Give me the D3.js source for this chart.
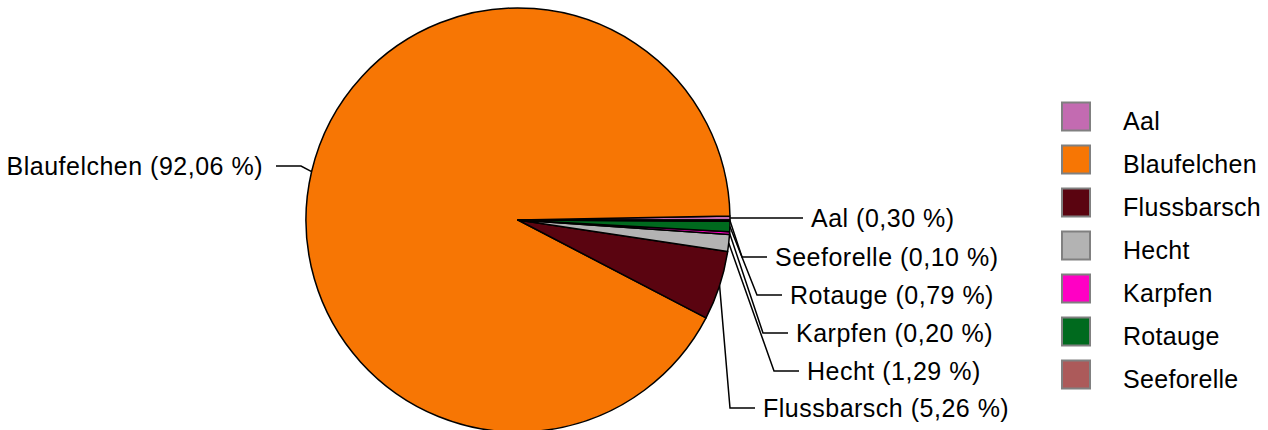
<!DOCTYPE html>
<html>
<head>
<meta charset="utf-8">
<script src="https://cdn.jsdelivr.net/npm/d3@7"></script>
<style>
  body { margin: 0; background: #fff; }
  text { font-family: "Liberation Sans", Arial, sans-serif; fill: #000; }
</style>
</head>
<body>
<div id="chart"></div>
<script>
// data
const species = ["Aal", "Blaufelchen", "Flussbarsch", "Hecht", "Karpfen", "Rotauge", "Seeforelle"];
const shares = [0.30, 92.06, 5.26, 1.29, 0.20, 0.79, 0.10];
const colors = ["#c36bb1", "#f77604", "#5a0410", "#b3b3b3", "#ff00c4", "#006a1e", "#ac5a5a"];

// leader layout for the slice labels (elbow x, label y), layout only
const labelLayout = {
  "Blaufelchen": {side: "left", ex: 301, y: 166},
  "Aal": {side: "right", ex: 778, y: 218},
  "Seeforelle": {side: "right", ex: 742, y: 257},
  "Rotauge": {side: "right", ex: 757, y: 295},
  "Karpfen": {side: "right", ex: 763, y: 333},
  "Hecht": {side: "right", ex: 774, y: 371},
  "Flussbarsch": {side: "right", ex: 730, y: 408}
};

const width = 1268, height = 430;
const cx = 518, cy = 220, radius = 212;
const fmt = v => v.toFixed(2).replace(".", ",") + " %";

const svg = d3.select("#chart").append("svg")
  .attr("width", width).attr("height", height);

const data = species.map((s, i) => ({name: s, value: shares[i], color: colors[i]}));

// counter-clockwise from 3 o'clock
const pie = d3.pie().sort(null).value(d => d.value)
  .startAngle(Math.PI / 2).endAngle(Math.PI / 2 - 2 * Math.PI);
const arcs = pie(data);
const arc = d3.arc().innerRadius(0).outerRadius(radius);

const g = svg.append("g").attr("transform", `translate(${cx},${cy})`);
g.selectAll("path.slice").data(arcs).enter().append("path")
  .attr("class", "slice")
  .attr("d", arc)
  .attr("fill", d => d.data.color)
  .attr("stroke", "#000")
  .attr("stroke-width", 1.5)
  .attr("stroke-linejoin", "round");

// labels with leader lines
const labels = svg.append("g");
arcs.forEach(d => {
  const lay = labelLayout[d.data.name];
  const mid = (d.startAngle + d.endAngle) / 2;
  const px = cx + Math.sin(mid) * radius;
  const py = cy - Math.cos(mid) * radius;
  const dir = lay.side === "right" ? 1 : -1;
  const hx = lay.ex + dir * 25;
  labels.append("polyline")
    .attr("points", `${px},${py} ${lay.ex},${lay.y} ${hx},${lay.y}`)
    .attr("fill", "none").attr("stroke", "#000").attr("stroke-width", 1.5);
  labels.append("text")
    .attr("x", hx + dir * (lay.side === "right" ? 8 : 13)).attr("y", lay.y)
    .attr("dy", "0.35em")
    .attr("text-anchor", lay.side === "right" ? "start" : "end")
    .style("font-size", "25px")
    .style("letter-spacing", "0.5px")
    .text(`${d.data.name} (${fmt(d.data.value)})`);
});

// legend
const legendY = d3.scalePoint().domain(species).range([116.5, 374.5]);
const legend = svg.append("g");
const item = legend.selectAll("g").data(data).enter().append("g")
  .attr("transform", d => `translate(1062,${legendY(d.name)})`);
item.append("rect")
  .attr("x", 0).attr("y", -14).attr("width", 28).attr("height", 28)
  .attr("fill", d => d.color).attr("stroke", "#808080").attr("stroke-width", 2);
item.append("text")
  .attr("x", 61).attr("y", 5).attr("dy", "0.35em")
  .style("font-size", "25px")
  .style("letter-spacing", "0.3px")
  .text(d => d.name);
</script>
</body>
</html>
